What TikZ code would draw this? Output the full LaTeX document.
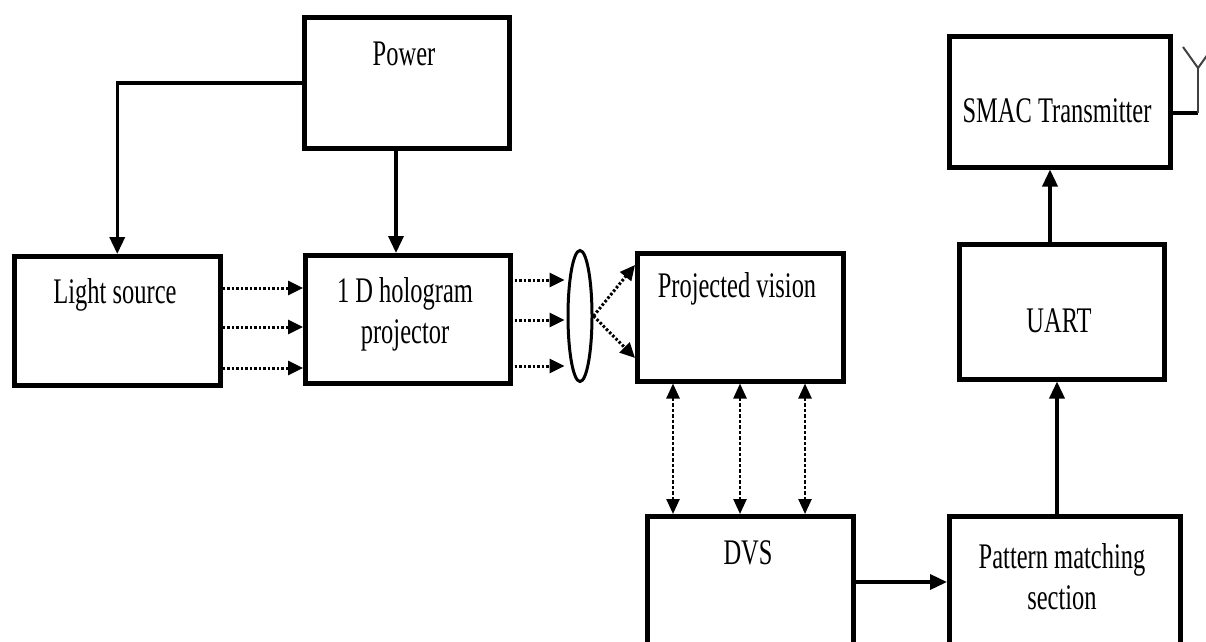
\documentclass[tikz,border=0pt]{standalone}
\usepackage{fontspec}
\setmainfont{Liberation Serif}[FakeStretch=0.68]
\usetikzlibrary{arrows.meta,shapes.geometric}
\begin{document}
\begin{tikzpicture}[x=1pt,y=-1pt,
  blk/.style={draw,line width=4.5pt,inner sep=0pt,anchor=north west},
  lbl/.style={font=\fontsize{36}{41}\selectfont,align=center,inner sep=0pt},
  conn/.style={line width=3.5pt,-{Triangle[length=17pt,width=15pt]}},
  dotarrow/.style={line width=3pt,dash pattern=on 2.5pt off 2pt,-{Triangle[length=15pt,width=14pt]}},
  dbl/.style={line width=2.5pt,dash pattern=on 3.5pt off 2pt,{Triangle[length=15pt,width=13pt]}-{Triangle[length=15pt,width=13pt]}},
  ant/.style={line width=2pt,black!75}]
\useasboundingbox (0,0) rectangle (1206,641);
\clip (0,0) rectangle (1206,641);

% boxes
\node[blk,minimum width=205pt,minimum height=131pt] (power) at (302,15) {};
\node[blk,minimum width=206pt,minimum height=129pt] (light) at (12,254) {};
\node[blk,minimum width=205pt,minimum height=128pt] (holo) at (303,253) {};
\node[draw,ellipse,line width=3pt,minimum width=24pt,minimum height=131pt,inner sep=0pt] (lens) at (580,316) {};
\node[blk,minimum width=206pt,minimum height=128pt] (proj) at (635,251) {};
\node[blk,minimum width=206pt,minimum height=170pt] (dvs) at (645,514) {};
\node[blk,minimum width=231pt,minimum height=170pt] (pattern) at (947,514) {};
\node[blk,minimum width=205pt,minimum height=135pt] (uart) at (957,242) {};
\node[blk,minimum width=221pt,minimum height=131pt] (smac) at (947,34) {};

% labels
\node[lbl] (powert) at (404,54) {Power};
\node[lbl] (lightt) at (115,295) {Light source};
\node[lbl] (holot) at (405,314) {1 D hologram\\projector};
\node[lbl] (projt) at (737,289) {Projected vision};
\node[lbl] (dvst) at (748,553) {DVS};
\node[lbl] (patternt) at (1062,577) {Pattern matching\\section};
\node[lbl] (uartt) at (1059,321) {UART};
\node[lbl] (smact) at (1057,111) {SMAC Transmitter};

% helper coordinates
\coordinate (y1) at (0,288);
\coordinate (y2) at (0,327);
\coordinate (y3) at (0,368);
\coordinate (z1) at (0,280);
\coordinate (z2) at (0,320);
\coordinate (z3) at (0,366);
\coordinate (w1) at (0,265);
\coordinate (w2) at (0,358);
\coordinate (x1) at (673,0);
\coordinate (x2) at (740,0);
\coordinate (x3) at (805,0);
\coordinate (yd) at (0,582);
\coordinate (xu) at (1057,0);
\coordinate (xs) at (1050,0);
\coordinate (xp) at (396,0);
\coordinate (ya) at (0,113);
\coordinate (a1) at (1198,113);
\coordinate (a2) at (1198,68);
\coordinate (a3) at (1183,47);
\coordinate (a4) at (1213,47);

% power connections
\draw[conn] (power.west) -| (light.north);
\draw[conn] (power.south -| xp) -- (holo.north -| xp);

% light to hologram
\draw[dotarrow] (light.east |- y1) -- (holo.west |- y1);
\draw[dotarrow] (light.east |- y2) -- (holo.west |- y2);
\draw[dotarrow] (light.east |- y3) -- (holo.west |- y3);

% hologram to lens
\draw[dotarrow] ([xshift=2pt]holo.east |- z1) -- ([xshift=-2pt]lens.west |- z1);
\draw[dotarrow] ([xshift=2pt]holo.east |- z2) -- ([xshift=-2pt]lens.west |- z2);
\draw[dotarrow] ([xshift=2pt]holo.east |- z3) -- ([xshift=-2pt]lens.west |- z3);

% lens to projected vision
\draw[dotarrow] (lens.east) -- (proj.west |- w1);
\draw[dotarrow] (lens.east) -- (proj.west |- w2);

% projected vision <-> DVS
\draw[dbl] (proj.south -| x1) -- (dvs.north -| x1);
\draw[dbl] (proj.south -| x2) -- (dvs.north -| x2);
\draw[dbl] (proj.south -| x3) -- (dvs.north -| x3);

% DVS to pattern, pattern to UART, UART to SMAC
\draw[conn] (dvs.east |- yd) -- (pattern.west |- yd);
\draw[conn] (pattern.north -| xu) -- (uart.south -| xu);
\draw[conn] (uart.north -| xs) -- (smac.south -| xs);

% antenna
\draw[line width=4pt] (smac.east |- ya) -- (a1);
\draw[ant] (a1) -- (a2);
\draw[ant] (a3) -- (a2) -- (a4);
\end{tikzpicture}
\end{document}
